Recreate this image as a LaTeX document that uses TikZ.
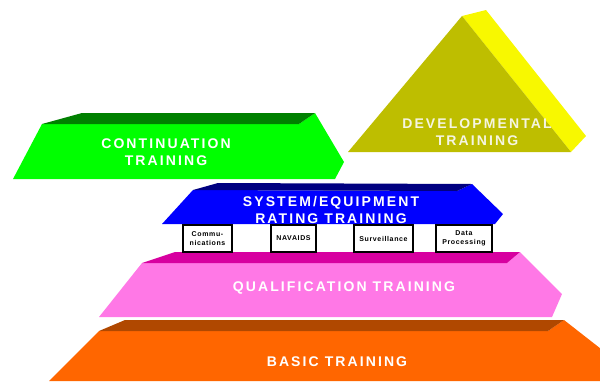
\documentclass[tikz,border=0pt]{standalone}
\usepackage{fontspec}
\newfontfamily\widefont[LetterSpace=15]{Liberation Sans}
\newfontfamily\smallfont[LetterSpace=9]{Liberation Sans}
\definecolor{grfront}{RGB}{0,255,0}
\definecolor{grtop}{RGB}{0,128,0}
\definecolor{olfront}{RGB}{190,190,0}
\definecolor{olside}{RGB}{248,248,0}
\definecolor{blfront}{RGB}{0,0,255}
\definecolor{bltop}{RGB}{0,0,128}
\definecolor{pkfront}{RGB}{255,120,230}
\definecolor{pktop}{RGB}{215,0,160}
\definecolor{orfront}{RGB}{255,102,0}
\definecolor{ortop}{RGB}{176,72,0}
\definecolor{devtext}{RGB}{245,245,225}
\tikzset{
  biglabel/.style={text=white, align=center, inner sep=0pt,
    font=\widefont\bfseries\fontsize{14}{17}\selectfont},
  subbox/.style={draw=black, line width=1.3pt, fill=white, align=center,
    inner sep=0pt, font=\smallfont\bfseries\fontsize{7}{9.5}\selectfont}
}
\begin{document}
\begin{tikzpicture}[x=1pt,y=-1pt]
\useasboundingbox (0,0) rectangle (600,381);
\clip (0,0) rectangle (600,381);
% continuation (green)
\fill[grfront] (42,124) -- (299,124) -- (315,113) -- (344,162) -- (335,179) -- (13,179) -- cycle;
\fill[grtop] (42,124) -- (82,113) -- (315,113) -- (299,124) -- cycle;
% developmental (triangle)
\fill[olside] (462,16) -- (486,10) -- (586,136) -- (571,152) -- cycle;
\fill[olfront] (462,16) -- (571,152) -- (348,152) -- cycle;
% orange basic
\fill[orfront] (99,331) -- (548,331) -- (564,320) -- (642,381) -- (49,381) -- cycle;
\fill[ortop] (99,331) -- (125,320) -- (564,320) -- (548,331) -- cycle;
% pink qualification
\fill[pkfront] (142,263) -- (507,263) -- (520,252) -- (562,294) -- (552,317) -- (99,317) -- cycle;
\fill[pktop] (142,263) -- (175,252) -- (520,252) -- (507,263) -- cycle;
% blue system/equipment
\fill[blfront] (193,190) -- (457,191) -- (472,184) -- (503,214) -- (495,224) -- (162,224) -- cycle;
\fill[bltop] (193,190) -- (218,183) -- (472,184) -- (457,191) -- cycle;
% labels
\node[biglabel] (cont) at (166,152) {CONTINUATION\\TRAINING};
\node[biglabel, text=devtext] (dev) at (477,132) {DEVELOPMENTAL\\TRAINING};
\node[biglabel] (sys) at (331,210) {SYSTEM/EQUIPMENT\\RATING TRAINING};
\node[biglabel] (qual) at (344,288) {QUALIFICATION TRAINING};
\node[biglabel] (basic) at (337,362) {BASIC TRAINING};
% sub boxes
\node[subbox, minimum width=49pt, minimum height=27pt] (comm) at (207.5,238.5) {Commu-\\nications};
\node[subbox, minimum width=45pt, minimum height=27pt] (nav) at (293.5,238.5) {NAVAIDS};
\node[subbox, minimum width=59pt, minimum height=27pt] (surv) at (383.5,238.5) {Surveillance};
\node[subbox, minimum width=56pt, minimum height=27pt] (data) at (464,238.5) {Data\\Processing};
\end{tikzpicture}
\end{document}
